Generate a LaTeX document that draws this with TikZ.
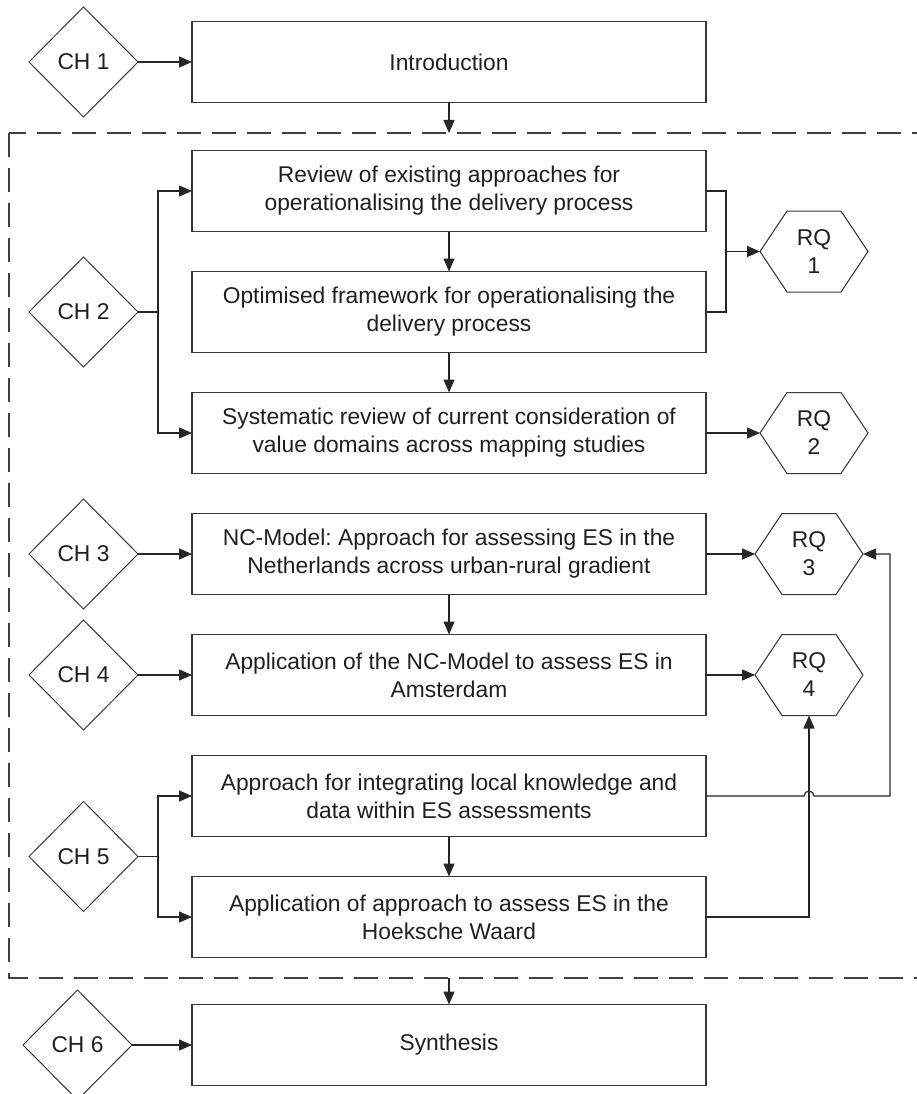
\documentclass[tikz,border=0pt]{standalone}
\usepackage{fontspec}
\setmainfont{Liberation Sans}
\usetikzlibrary{shapes.geometric, arrows.meta, positioning, calc}
\frenchspacing

\begin{document}
\begin{tikzpicture}[x=1pt, y=1pt, node distance=40pt,
  every node/.style={font=\fontsize{22.8}{28}\selectfont, text=black!88},
  box/.style={draw=black!78, line width=1.2pt, minimum width=514pt, minimum height=81pt, align=center, inner sep=0pt, outer sep=0pt},
  chap/.style={diamond, draw=black!78, line width=1pt, minimum width=109pt, minimum height=110pt, inner sep=0pt, outer sep=0pt},
  rq/.style={minimum width=108pt, minimum height=81pt, align=center, inner sep=0pt, outer sep=0pt},
  link/.style={draw=black!85, line width=1.2pt},
  arr/.style={link, -{Triangle[length=13pt, width=11pt]}}]
\useasboundingbox (0,0) rectangle (916,-1094);

\node[box] (intro) at (449,-62) {Introduction};
\node[box, below=48pt of intro] (rev) {Review of existing approaches for\\operationalising the delivery process};
\node[box, below=of rev] (frame) {Optimised framework for operationalising the\\delivery process};
\node[box, below=of frame] (syst) {Systematic review of current consideration of\\value domains across mapping studies};
\node[box, below=of syst] (ncmod) {NC-Model: Approach for assessing ES in the\\Netherlands across urban-rural gradient};
\node[box, below=of ncmod] (ams) {Application of the NC-Model to assess ES in\\Amsterdam};
\node[box, below=of ams] (local) {Approach for integrating local knowledge and\\data within ES assessments};
\node[box, below=of local] (hw) {Application of approach to assess ES in the\\Hoeksche Waard};
\node[box, below=47pt of hw] (synth) {Synthesis};

% chapters
\coordinate (m56) at ($(local.west)!0.5!(hw.west)$);
\node[chap, left=54pt of intro] (ch1) {CH 1};
\node[chap, left=54pt of frame] (ch2) {CH 2};
\node[chap, left=54pt of ncmod] (ch3) {CH 3};
\node[chap, left=54pt of ams] (ch4) {CH 4};
\node[chap, left=54pt of m56] (ch5) {CH 5};
\node[chap, left=60pt of synth] (ch6) {CH 6};

% research questions
\coordinate (m12) at ($(rev.east)!0.5!(frame.east)$);
\node[rq, right=54pt of m12] (rq1) {RQ\\1};
\node[rq, right=54pt of syst] (rq2) {RQ\\2};
\node[rq, right=49pt of ncmod] (rq3) {RQ\\3};
\node[rq, right=49pt of ams] (rq4) {RQ\\4};
\foreach \q in {rq1,rq2,rq3,rq4}
  \draw[draw=black!78, line width=1pt] (\q.west) -- ([xshift=27pt]\q.north west) -- ([xshift=-27pt]\q.north east) -- (\q.east) -- ([xshift=-27pt]\q.south east) -- ([xshift=27pt]\q.south west) -- cycle;

% dashed frame
\coordinate (fnw) at (9,-133);
\coordinate (fse) at (940,-978);
\draw[draw=black!75, line width=1.3pt, dash pattern=on 24pt off 11pt] (fnw) rectangle (fse);

\draw[arr] (ch1) -- (intro);
\draw[arr] (intro) -- (intro.south |- fnw);
\draw[arr] (rev) -- (frame);
\draw[arr] (frame) -- (syst);
\draw[arr] (ncmod) -- (ams);
\draw[arr] (local) -- (hw);
\draw[arr] (hw.south |- fse) -- (synth);

\draw[arr] (ch2.east) -- ++(20,0) |- (rev.west);
\draw[arr] (ch2.east) -- ++(20,0) |- (syst.west);
\draw[arr] (ch3) -- (ncmod);
\draw[arr] (ch4) -- (ams);
\draw[arr] (ch5.east) -- ++(20,0) |- (local.west);
\draw[arr] (ch5.east) -- ++(20,0) |- (hw.west);
\draw[arr] (ch6) -- (synth);

\coordinate[right=20pt of m12] (j12);
\draw[link] (rev.east) -| (j12) |- (frame.east);
\draw[arr] (j12) -- (rq1.west);
\draw[arr] (syst) -- (rq2.west);
\draw[arr] (ncmod) -- (rq3.west);
\draw[arr] (ams) -- (rq4.west);
\draw[arr] (hw.east) -| (rq4.south);
\coordinate[right=27pt of rq3.east] (r3turn);
\draw[arr] (local.east) -- ($(local.east -| rq4.south)+(-5,0)$) arc[start angle=180, end angle=0, radius=5pt] -- (local.east -| r3turn) |- (rq3.east);

\end{tikzpicture}
\end{document}
